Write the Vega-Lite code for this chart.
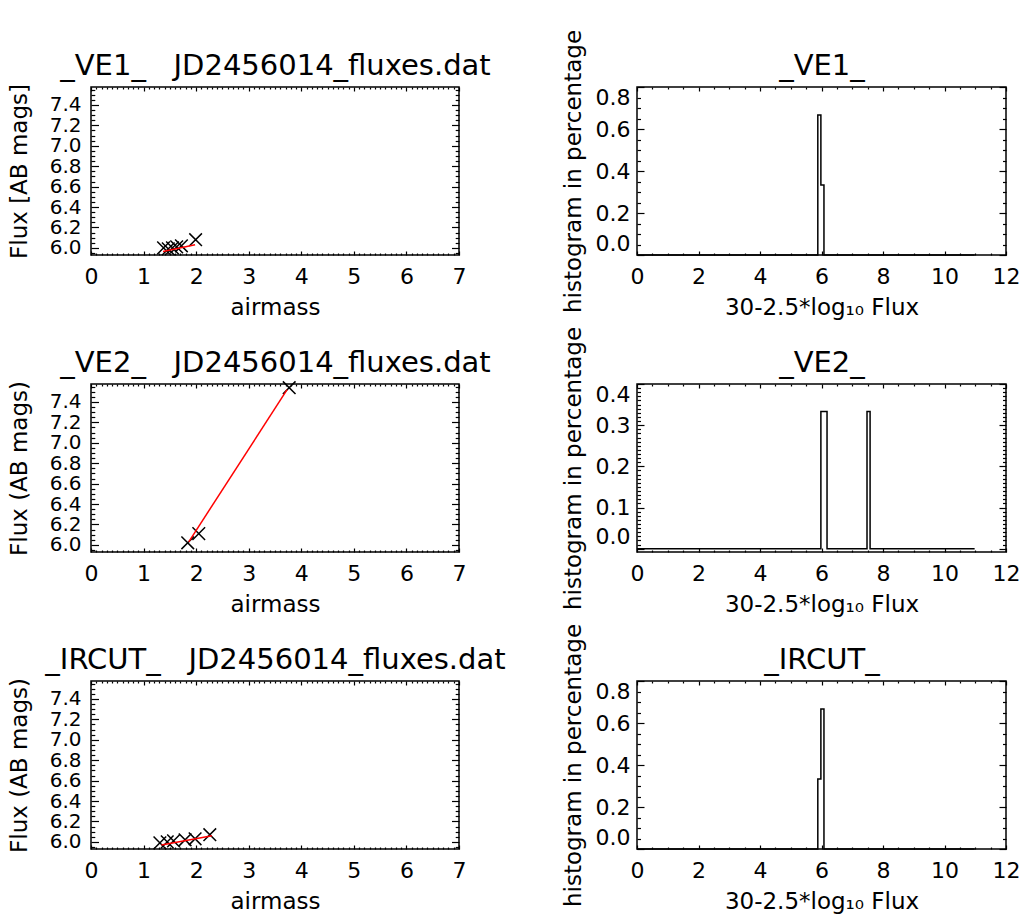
{
  "$schema": "https://vega.github.io/schema/vega-lite/v6.json",
  "background": "white",
  "padding": {"left": 7, "top": 28, "right": 5, "bottom": 5},
  "bounds": "flush",
  "columns": 2,
  "spacing": {"row": 129, "column": 178},
  "config": {
    "font": "DejaVu Sans",
    "view": {"stroke": "black", "strokeWidth": 1.5},
    "axis": {"domain": false, "grid": false, "labelFont": "DejaVu Sans", "labelFontSize": 22, "labelColor": "black", "titleFont": "DejaVu Sans", "titleFontSize": 23, "titleFontWeight": "normal", "titleColor": "black", "tickColor": "black", "tickWidth": 1.2, "labelOverlap": false, "labelFlush": false, "labelBound": false}
  },
  "datasets": {
    "flux": [
      {"band": "VE1", "kind": "obs", "airmass": 1.38, "mag": 6.0},
      {"band": "VE1", "kind": "obs", "airmass": 1.47, "mag": 5.99},
      {"band": "VE1", "kind": "obs", "airmass": 1.55, "mag": 6.0},
      {"band": "VE1", "kind": "obs", "airmass": 1.63, "mag": 6.01},
      {"band": "VE1", "kind": "obs", "airmass": 1.72, "mag": 6.02},
      {"band": "VE1", "kind": "obs", "airmass": 1.99, "mag": 6.08},
      {"band": "VE1", "kind": "fit", "airmass": 1.37, "mag": 5.965},
      {"band": "VE1", "kind": "fit", "airmass": 1.98, "mag": 6.03},
      {"band": "VE2", "kind": "obs", "airmass": 1.84, "mag": 6.02},
      {"band": "VE2", "kind": "obs", "airmass": 2.05, "mag": 6.11},
      {"band": "VE2", "kind": "obs", "airmass": 3.77, "mag": 7.54},
      {"band": "VE2", "kind": "fit", "airmass": 1.86, "mag": 6.03},
      {"band": "VE2", "kind": "fit", "airmass": 3.73, "mag": 7.52},
      {"band": "IRCUT", "kind": "obs", "airmass": 1.31, "mag": 5.99},
      {"band": "IRCUT", "kind": "obs", "airmass": 1.45, "mag": 6.0},
      {"band": "IRCUT", "kind": "obs", "airmass": 1.57, "mag": 6.01},
      {"band": "IRCUT", "kind": "obs", "airmass": 1.79, "mag": 6.02},
      {"band": "IRCUT", "kind": "obs", "airmass": 1.98, "mag": 6.03},
      {"band": "IRCUT", "kind": "obs", "airmass": 2.26, "mag": 6.07},
      {"band": "IRCUT", "kind": "fit", "airmass": 1.34, "mag": 5.97},
      {"band": "IRCUT", "kind": "fit", "airmass": 2.3, "mag": 6.06}
    ],
    "hist": [
      {"band": "VE1", "i": 0, "x": 0, "pct": 0},
      {"band": "VE1", "i": 1, "x": 5.88, "pct": 0},
      {"band": "VE1", "i": 2, "x": 5.88, "pct": 0.667},
      {"band": "VE1", "i": 3, "x": 5.98, "pct": 0.667},
      {"band": "VE1", "i": 4, "x": 5.98, "pct": 0.333},
      {"band": "VE1", "i": 5, "x": 6.08, "pct": 0.333},
      {"band": "VE1", "i": 6, "x": 6.08, "pct": 0},
      {"band": "VE1", "i": 7, "x": 10.98, "pct": 0},
      {"band": "VE2", "i": 0, "x": 0, "pct": 0},
      {"band": "VE2", "i": 1, "x": 5.98, "pct": 0},
      {"band": "VE2", "i": 2, "x": 5.98, "pct": 0.333},
      {"band": "VE2", "i": 3, "x": 6.18, "pct": 0.333},
      {"band": "VE2", "i": 4, "x": 6.18, "pct": 0},
      {"band": "VE2", "i": 5, "x": 7.48, "pct": 0},
      {"band": "VE2", "i": 6, "x": 7.48, "pct": 0.333},
      {"band": "VE2", "i": 7, "x": 7.58, "pct": 0.333},
      {"band": "VE2", "i": 8, "x": 7.58, "pct": 0},
      {"band": "VE2", "i": 9, "x": 10.98, "pct": 0},
      {"band": "IRCUT", "i": 0, "x": 0, "pct": 0},
      {"band": "IRCUT", "i": 1, "x": 5.88, "pct": 0},
      {"band": "IRCUT", "i": 2, "x": 5.88, "pct": 0.333},
      {"band": "IRCUT", "i": 3, "x": 5.98, "pct": 0.333},
      {"band": "IRCUT", "i": 4, "x": 5.98, "pct": 0.667},
      {"band": "IRCUT", "i": 5, "x": 6.08, "pct": 0.667},
      {"band": "IRCUT", "i": 6, "x": 6.08, "pct": 0},
      {"band": "IRCUT", "i": 7, "x": 10.98, "pct": 0}
    ]
  },
  "concat": [
    {
      "width": 368, "height": 168,
      "layer": [
        {
          "data": {"name": "flux"},
          "transform": [{"filter": "datum.band === 'VE1' && datum.kind === 'obs'"}],
          "mark": {"type": "point", "shape": "M-1,-1L1,1M-1,1L1,-1", "filled": false, "stroke": "black", "strokeWidth": 1.5, "size": 160, "opacity": 1},
          "encoding": {
            "x": {"field": "airmass", "type": "quantitative", "scale": {"domain": [0, 7], "nice": false, "zero": false},
              "axis": {"orient": "bottom", "values": [0,0.1,0.2,0.3,0.4,0.5,0.6,0.7,0.8,0.9,1,1.1,1.2,1.3,1.4,1.5,1.6,1.7,1.8,1.9,2,2.1,2.2,2.3,2.4,2.5,2.6,2.7,2.8,2.9,3,3.1,3.2,3.3,3.4,3.5,3.6,3.7,3.8,3.9,4,4.1,4.2,4.3,4.4,4.5,4.6,4.7,4.8,4.9,5,5.1,5.2,5.3,5.4,5.5,5.6,5.7,5.8,5.9,6,6.1,6.2,6.3,6.4,6.5,6.6,6.7,6.8,6.9,7], "title": "airmass", "labelExpr": "abs(datum.value-round(datum.value))<1e-6 ? format(datum.value,'d') : ''", "tickSize": {"condition": {"test": "abs(datum.value-round(datum.value))<1e-6", "value": -4}, "value": -2}, "labelPadding": 15, "titlePadding": 7}},
            "y": {"field": "mag", "type": "quantitative", "scale": {"domain": [5.93, 7.576], "nice": false, "zero": false},
              "axis": {"orient": "left", "values": [5.95,6,6.05,6.1,6.15,6.2,6.25,6.3,6.35,6.4,6.45,6.5,6.55,6.6,6.65,6.7,6.75,6.8,6.85,6.9,6.95,7,7.05,7.1,7.15,7.2,7.25,7.3,7.35,7.4,7.45,7.5,7.55], "title": "Flux [AB mags]", "labelFontSize": 20, "labelExpr": "abs(datum.value*5-round(datum.value*5))<1e-6 ? format(datum.value,'.1f') : ''", "tickSize": {"condition": {"test": "abs(datum.value*5-round(datum.value*5))<1e-6", "value": -7.5}, "value": -3.8}, "labelPadding": 17.5, "titlePadding": 18}}
          }
        },
        {
          "data": {"name": "flux"},
          "transform": [{"filter": "datum.band === 'VE1' && datum.kind === 'fit'"}],
          "mark": {"type": "line", "color": "red", "strokeWidth": 1.5},
          "encoding": {
            "x": {"field": "airmass", "type": "quantitative", "scale": {"domain": [0, 7], "nice": false, "zero": false},
              "axis": {"orient": "top", "values": [0,0.1,0.2,0.3,0.4,0.5,0.6,0.7,0.8,0.9,1,1.1,1.2,1.3,1.4,1.5,1.6,1.7,1.8,1.9,2,2.1,2.2,2.3,2.4,2.5,2.6,2.7,2.8,2.9,3,3.1,3.2,3.3,3.4,3.5,3.6,3.7,3.8,3.9,4,4.1,4.2,4.3,4.4,4.5,4.6,4.7,4.8,4.9,5,5.1,5.2,5.3,5.4,5.5,5.6,5.7,5.8,5.9,6,6.1,6.2,6.3,6.4,6.5,6.6,6.7,6.8,6.9,7], "title": "_VE1_\u00a0\u00a0\u00a0JD2456014_fluxes.dat", "titleFontSize": 29, "titlePadding": 6, "labels": false, "tickSize": {"condition": {"test": "abs(datum.value-round(datum.value))<1e-6", "value": -4}, "value": -2}}},
            "y": {"field": "mag", "type": "quantitative", "scale": {"domain": [5.93, 7.576], "nice": false, "zero": false},
              "axis": {"orient": "right", "values": [5.95,6,6.05,6.1,6.15,6.2,6.25,6.3,6.35,6.4,6.45,6.5,6.55,6.6,6.65,6.7,6.75,6.8,6.85,6.9,6.95,7,7.05,7.1,7.15,7.2,7.25,7.3,7.35,7.4,7.45,7.5,7.55], "title": null, "labels": false, "tickSize": {"condition": {"test": "abs(datum.value*5-round(datum.value*5))<1e-6", "value": -7.5}, "value": -3.8}}}
          }
        }
      ],
      "resolve": {"axis": {"x": "independent", "y": "independent"}}
    },
    {
      "width": 369, "height": 168,
      "layer": [
        {
          "data": {"name": "hist"},
          "transform": [{"filter": "datum.band === 'VE1'"}],
          "mark": {"type": "line", "color": "black", "strokeWidth": 1.5},
          "encoding": {
            "x": {"field": "x", "type": "quantitative", "scale": {"domain": [0, 12], "nice": false},
              "axis": {"orient": "bottom", "values": [0,0.5,1,1.5,2,2.5,3,3.5,4,4.5,5,5.5,6,6.5,7,7.5,8,8.5,9,9.5,10,10.5,11,11.5,12], "title": "30-2.5*log\u2081\u2080 Flux", "labelExpr": "abs(datum.value/2-round(datum.value/2))<1e-6 ? format(datum.value,'d') : ''", "tickSize": {"condition": {"test": "abs(datum.value/2-round(datum.value/2))<1e-6", "value": -4}, "value": -2}, "labelPadding": 15, "titlePadding": 7}},
            "y": {"field": "pct", "type": "quantitative", "scale": {"domain": [0, 0.8], "nice": false},
              "axis": {"orient": "left", "values": [0,0.05,0.1,0.15,0.2,0.25,0.3,0.35,0.4,0.45,0.5,0.55,0.6,0.65,0.7,0.75,0.8], "title": "histogram in percentage", "labelExpr": "abs(datum.value*5-round(datum.value*5))<1e-6 ? format(datum.value,'.1f') : ''", "tickSize": {"condition": {"test": "abs(datum.value*5-round(datum.value*5))<1e-6", "value": -7}, "value": -3.5}, "labelPadding": 14, "titlePadding": 10, "labelFlush": true}},
            "order": {"field": "i", "type": "quantitative"}
          }
        },
        {
          "data": {"name": "hist"},
          "transform": [{"filter": "datum.band === 'VE1'"}],
          "mark": {"type": "line", "color": "black", "strokeWidth": 1.5, "opacity": 0},
          "encoding": {
            "x": {"field": "x", "type": "quantitative", "scale": {"domain": [0, 12], "nice": false},
              "axis": {"orient": "top", "values": [0,0.5,1,1.5,2,2.5,3,3.5,4,4.5,5,5.5,6,6.5,7,7.5,8,8.5,9,9.5,10,10.5,11,11.5,12], "title": "_VE1_", "titleFontSize": 29, "titlePadding": 6, "labels": false, "tickSize": {"condition": {"test": "abs(datum.value/2-round(datum.value/2))<1e-6", "value": -4}, "value": -2}}},
            "y": {"field": "pct", "type": "quantitative", "scale": {"domain": [0, 0.8], "nice": false},
              "axis": {"orient": "right", "values": [0,0.05,0.1,0.15,0.2,0.25,0.3,0.35,0.4,0.45,0.5,0.55,0.6,0.65,0.7,0.75,0.8], "title": null, "labels": false, "tickSize": {"condition": {"test": "abs(datum.value*5-round(datum.value*5))<1e-6", "value": -7}, "value": -3.5}}},
            "order": {"field": "i", "type": "quantitative"}
          }
        }
      ],
      "resolve": {"axis": {"x": "independent", "y": "independent"}}
    },
    {
      "width": 368, "height": 168,
      "layer": [
        {
          "data": {"name": "flux"},
          "transform": [{"filter": "datum.band === 'VE2' && datum.kind === 'obs'"}],
          "mark": {"type": "point", "shape": "M-1,-1L1,1M-1,1L1,-1", "filled": false, "stroke": "black", "strokeWidth": 1.5, "size": 160, "opacity": 1},
          "encoding": {
            "x": {"field": "airmass", "type": "quantitative", "scale": {"domain": [0, 7], "nice": false, "zero": false},
              "axis": {"orient": "bottom", "values": [0,0.1,0.2,0.3,0.4,0.5,0.6,0.7,0.8,0.9,1,1.1,1.2,1.3,1.4,1.5,1.6,1.7,1.8,1.9,2,2.1,2.2,2.3,2.4,2.5,2.6,2.7,2.8,2.9,3,3.1,3.2,3.3,3.4,3.5,3.6,3.7,3.8,3.9,4,4.1,4.2,4.3,4.4,4.5,4.6,4.7,4.8,4.9,5,5.1,5.2,5.3,5.4,5.5,5.6,5.7,5.8,5.9,6,6.1,6.2,6.3,6.4,6.5,6.6,6.7,6.8,6.9,7], "title": "airmass", "labelExpr": "abs(datum.value-round(datum.value))<1e-6 ? format(datum.value,'d') : ''", "tickSize": {"condition": {"test": "abs(datum.value-round(datum.value))<1e-6", "value": -4}, "value": -2}, "labelPadding": 15, "titlePadding": 7}},
            "y": {"field": "mag", "type": "quantitative", "scale": {"domain": [5.93, 7.576], "nice": false, "zero": false},
              "axis": {"orient": "left", "values": [5.95,6,6.05,6.1,6.15,6.2,6.25,6.3,6.35,6.4,6.45,6.5,6.55,6.6,6.65,6.7,6.75,6.8,6.85,6.9,6.95,7,7.05,7.1,7.15,7.2,7.25,7.3,7.35,7.4,7.45,7.5,7.55], "title": "Flux (AB mags)", "labelFontSize": 20, "labelExpr": "abs(datum.value*5-round(datum.value*5))<1e-6 ? format(datum.value,'.1f') : ''", "tickSize": {"condition": {"test": "abs(datum.value*5-round(datum.value*5))<1e-6", "value": -7.5}, "value": -3.8}, "labelPadding": 17.5, "titlePadding": 18}}
          }
        },
        {
          "data": {"name": "flux"},
          "transform": [{"filter": "datum.band === 'VE2' && datum.kind === 'fit'"}],
          "mark": {"type": "line", "color": "red", "strokeWidth": 1.5},
          "encoding": {
            "x": {"field": "airmass", "type": "quantitative", "scale": {"domain": [0, 7], "nice": false, "zero": false},
              "axis": {"orient": "top", "values": [0,0.1,0.2,0.3,0.4,0.5,0.6,0.7,0.8,0.9,1,1.1,1.2,1.3,1.4,1.5,1.6,1.7,1.8,1.9,2,2.1,2.2,2.3,2.4,2.5,2.6,2.7,2.8,2.9,3,3.1,3.2,3.3,3.4,3.5,3.6,3.7,3.8,3.9,4,4.1,4.2,4.3,4.4,4.5,4.6,4.7,4.8,4.9,5,5.1,5.2,5.3,5.4,5.5,5.6,5.7,5.8,5.9,6,6.1,6.2,6.3,6.4,6.5,6.6,6.7,6.8,6.9,7], "title": "_VE2_\u00a0\u00a0\u00a0JD2456014_fluxes.dat", "titleFontSize": 29, "titlePadding": 6, "labels": false, "tickSize": {"condition": {"test": "abs(datum.value-round(datum.value))<1e-6", "value": -4}, "value": -2}}},
            "y": {"field": "mag", "type": "quantitative", "scale": {"domain": [5.93, 7.576], "nice": false, "zero": false},
              "axis": {"orient": "right", "values": [5.95,6,6.05,6.1,6.15,6.2,6.25,6.3,6.35,6.4,6.45,6.5,6.55,6.6,6.65,6.7,6.75,6.8,6.85,6.9,6.95,7,7.05,7.1,7.15,7.2,7.25,7.3,7.35,7.4,7.45,7.5,7.55], "title": null, "labels": false, "tickSize": {"condition": {"test": "abs(datum.value*5-round(datum.value*5))<1e-6", "value": -7.5}, "value": -3.8}}}
          }
        }
      ],
      "resolve": {"axis": {"x": "independent", "y": "independent"}}
    },
    {
      "width": 369, "height": 168,
      "layer": [
        {
          "data": {"name": "hist"},
          "transform": [{"filter": "datum.band === 'VE2'"}],
          "mark": {"type": "line", "color": "black", "strokeWidth": 1.5},
          "encoding": {
            "x": {"field": "x", "type": "quantitative", "scale": {"domain": [0, 12], "nice": false},
              "axis": {"orient": "bottom", "values": [0,0.5,1,1.5,2,2.5,3,3.5,4,4.5,5,5.5,6,6.5,7,7.5,8,8.5,9,9.5,10,10.5,11,11.5,12], "title": "30-2.5*log\u2081\u2080 Flux", "labelExpr": "abs(datum.value/2-round(datum.value/2))<1e-6 ? format(datum.value,'d') : ''", "tickSize": {"condition": {"test": "abs(datum.value/2-round(datum.value/2))<1e-6", "value": -4}, "value": -2}, "labelPadding": 15, "titlePadding": 7}},
            "y": {"field": "pct", "type": "quantitative", "scale": {"domain": [-0.008, 0.4], "nice": false, "zero": false},
              "axis": {"orient": "left", "values": [0,0.01,0.02,0.03,0.04,0.05,0.06,0.07,0.08,0.09,0.1,0.11,0.12,0.13,0.14,0.15,0.16,0.17,0.18,0.19,0.2,0.21,0.22,0.23,0.24,0.25,0.26,0.27,0.28,0.29,0.3,0.31,0.32,0.33,0.34,0.35,0.36,0.37,0.38,0.39,0.4], "title": "histogram in percentage", "labelExpr": "abs(datum.value*10-round(datum.value*10))<1e-6 ? format(datum.value,'.1f') : ''", "tickSize": {"condition": {"test": "abs(datum.value*10-round(datum.value*10))<1e-6", "value": -7}, "value": -3.5}, "labelPadding": 14, "titlePadding": 10, "labelFlush": 5}},
            "order": {"field": "i", "type": "quantitative"}
          }
        },
        {
          "data": {"name": "hist"},
          "transform": [{"filter": "datum.band === 'VE2'"}],
          "mark": {"type": "line", "color": "black", "strokeWidth": 1.5, "opacity": 0},
          "encoding": {
            "x": {"field": "x", "type": "quantitative", "scale": {"domain": [0, 12], "nice": false},
              "axis": {"orient": "top", "values": [0,0.5,1,1.5,2,2.5,3,3.5,4,4.5,5,5.5,6,6.5,7,7.5,8,8.5,9,9.5,10,10.5,11,11.5,12], "title": "_VE2_", "titleFontSize": 29, "titlePadding": 6, "labels": false, "tickSize": {"condition": {"test": "abs(datum.value/2-round(datum.value/2))<1e-6", "value": -4}, "value": -2}}},
            "y": {"field": "pct", "type": "quantitative", "scale": {"domain": [-0.008, 0.4], "nice": false, "zero": false},
              "axis": {"orient": "right", "values": [0,0.01,0.02,0.03,0.04,0.05,0.06,0.07,0.08,0.09,0.1,0.11,0.12,0.13,0.14,0.15,0.16,0.17,0.18,0.19,0.2,0.21,0.22,0.23,0.24,0.25,0.26,0.27,0.28,0.29,0.3,0.31,0.32,0.33,0.34,0.35,0.36,0.37,0.38,0.39,0.4], "title": null, "labels": false, "tickSize": {"condition": {"test": "abs(datum.value*10-round(datum.value*10))<1e-6", "value": -7}, "value": -3.5}}},
            "order": {"field": "i", "type": "quantitative"}
          }
        }
      ],
      "resolve": {"axis": {"x": "independent", "y": "independent"}}
    },
    {
      "width": 368, "height": 168,
      "layer": [
        {
          "data": {"name": "flux"},
          "transform": [{"filter": "datum.band === 'IRCUT' && datum.kind === 'obs'"}],
          "mark": {"type": "point", "shape": "M-1,-1L1,1M-1,1L1,-1", "filled": false, "stroke": "black", "strokeWidth": 1.5, "size": 160, "opacity": 1},
          "encoding": {
            "x": {"field": "airmass", "type": "quantitative", "scale": {"domain": [0, 7], "nice": false, "zero": false},
              "axis": {"orient": "bottom", "values": [0,0.1,0.2,0.3,0.4,0.5,0.6,0.7,0.8,0.9,1,1.1,1.2,1.3,1.4,1.5,1.6,1.7,1.8,1.9,2,2.1,2.2,2.3,2.4,2.5,2.6,2.7,2.8,2.9,3,3.1,3.2,3.3,3.4,3.5,3.6,3.7,3.8,3.9,4,4.1,4.2,4.3,4.4,4.5,4.6,4.7,4.8,4.9,5,5.1,5.2,5.3,5.4,5.5,5.6,5.7,5.8,5.9,6,6.1,6.2,6.3,6.4,6.5,6.6,6.7,6.8,6.9,7], "title": "airmass", "labelExpr": "abs(datum.value-round(datum.value))<1e-6 ? format(datum.value,'d') : ''", "tickSize": {"condition": {"test": "abs(datum.value-round(datum.value))<1e-6", "value": -4}, "value": -2}, "labelPadding": 15, "titlePadding": 7}},
            "y": {"field": "mag", "type": "quantitative", "scale": {"domain": [5.93, 7.576], "nice": false, "zero": false},
              "axis": {"orient": "left", "values": [5.95,6,6.05,6.1,6.15,6.2,6.25,6.3,6.35,6.4,6.45,6.5,6.55,6.6,6.65,6.7,6.75,6.8,6.85,6.9,6.95,7,7.05,7.1,7.15,7.2,7.25,7.3,7.35,7.4,7.45,7.5,7.55], "title": "Flux (AB mags)", "labelFontSize": 20, "labelExpr": "abs(datum.value*5-round(datum.value*5))<1e-6 ? format(datum.value,'.1f') : ''", "tickSize": {"condition": {"test": "abs(datum.value*5-round(datum.value*5))<1e-6", "value": -7.5}, "value": -3.8}, "labelPadding": 17.5, "titlePadding": 18}}
          }
        },
        {
          "data": {"name": "flux"},
          "transform": [{"filter": "datum.band === 'IRCUT' && datum.kind === 'fit'"}],
          "mark": {"type": "line", "color": "red", "strokeWidth": 1.5},
          "encoding": {
            "x": {"field": "airmass", "type": "quantitative", "scale": {"domain": [0, 7], "nice": false, "zero": false},
              "axis": {"orient": "top", "values": [0,0.1,0.2,0.3,0.4,0.5,0.6,0.7,0.8,0.9,1,1.1,1.2,1.3,1.4,1.5,1.6,1.7,1.8,1.9,2,2.1,2.2,2.3,2.4,2.5,2.6,2.7,2.8,2.9,3,3.1,3.2,3.3,3.4,3.5,3.6,3.7,3.8,3.9,4,4.1,4.2,4.3,4.4,4.5,4.6,4.7,4.8,4.9,5,5.1,5.2,5.3,5.4,5.5,5.6,5.7,5.8,5.9,6,6.1,6.2,6.3,6.4,6.5,6.6,6.7,6.8,6.9,7], "title": "_IRCUT_\u00a0\u00a0\u00a0JD2456014_fluxes.dat", "titleFontSize": 29, "titlePadding": 6, "labels": false, "tickSize": {"condition": {"test": "abs(datum.value-round(datum.value))<1e-6", "value": -4}, "value": -2}}},
            "y": {"field": "mag", "type": "quantitative", "scale": {"domain": [5.93, 7.576], "nice": false, "zero": false},
              "axis": {"orient": "right", "values": [5.95,6,6.05,6.1,6.15,6.2,6.25,6.3,6.35,6.4,6.45,6.5,6.55,6.6,6.65,6.7,6.75,6.8,6.85,6.9,6.95,7,7.05,7.1,7.15,7.2,7.25,7.3,7.35,7.4,7.45,7.5,7.55], "title": null, "labels": false, "tickSize": {"condition": {"test": "abs(datum.value*5-round(datum.value*5))<1e-6", "value": -7.5}, "value": -3.8}}}
          }
        }
      ],
      "resolve": {"axis": {"x": "independent", "y": "independent"}}
    },
    {
      "width": 369, "height": 168,
      "layer": [
        {
          "data": {"name": "hist"},
          "transform": [{"filter": "datum.band === 'IRCUT'"}],
          "mark": {"type": "line", "color": "black", "strokeWidth": 1.5},
          "encoding": {
            "x": {"field": "x", "type": "quantitative", "scale": {"domain": [0, 12], "nice": false},
              "axis": {"orient": "bottom", "values": [0,0.5,1,1.5,2,2.5,3,3.5,4,4.5,5,5.5,6,6.5,7,7.5,8,8.5,9,9.5,10,10.5,11,11.5,12], "title": "30-2.5*log\u2081\u2080 Flux", "labelExpr": "abs(datum.value/2-round(datum.value/2))<1e-6 ? format(datum.value,'d') : ''", "tickSize": {"condition": {"test": "abs(datum.value/2-round(datum.value/2))<1e-6", "value": -4}, "value": -2}, "labelPadding": 15, "titlePadding": 7}},
            "y": {"field": "pct", "type": "quantitative", "scale": {"domain": [0, 0.8], "nice": false},
              "axis": {"orient": "left", "values": [0,0.05,0.1,0.15,0.2,0.25,0.3,0.35,0.4,0.45,0.5,0.55,0.6,0.65,0.7,0.75,0.8], "title": "histogram in percentage", "labelExpr": "abs(datum.value*5-round(datum.value*5))<1e-6 ? format(datum.value,'.1f') : ''", "tickSize": {"condition": {"test": "abs(datum.value*5-round(datum.value*5))<1e-6", "value": -7}, "value": -3.5}, "labelPadding": 14, "titlePadding": 10, "labelFlush": true}},
            "order": {"field": "i", "type": "quantitative"}
          }
        },
        {
          "data": {"name": "hist"},
          "transform": [{"filter": "datum.band === 'IRCUT'"}],
          "mark": {"type": "line", "color": "black", "strokeWidth": 1.5, "opacity": 0},
          "encoding": {
            "x": {"field": "x", "type": "quantitative", "scale": {"domain": [0, 12], "nice": false},
              "axis": {"orient": "top", "values": [0,0.5,1,1.5,2,2.5,3,3.5,4,4.5,5,5.5,6,6.5,7,7.5,8,8.5,9,9.5,10,10.5,11,11.5,12], "title": "_IRCUT_", "titleFontSize": 29, "titlePadding": 6, "labels": false, "tickSize": {"condition": {"test": "abs(datum.value/2-round(datum.value/2))<1e-6", "value": -4}, "value": -2}}},
            "y": {"field": "pct", "type": "quantitative", "scale": {"domain": [0, 0.8], "nice": false},
              "axis": {"orient": "right", "values": [0,0.05,0.1,0.15,0.2,0.25,0.3,0.35,0.4,0.45,0.5,0.55,0.6,0.65,0.7,0.75,0.8], "title": null, "labels": false, "tickSize": {"condition": {"test": "abs(datum.value*5-round(datum.value*5))<1e-6", "value": -7}, "value": -3.5}}},
            "order": {"field": "i", "type": "quantitative"}
          }
        }
      ],
      "resolve": {"axis": {"x": "independent", "y": "independent"}}
    }
  ]
}
